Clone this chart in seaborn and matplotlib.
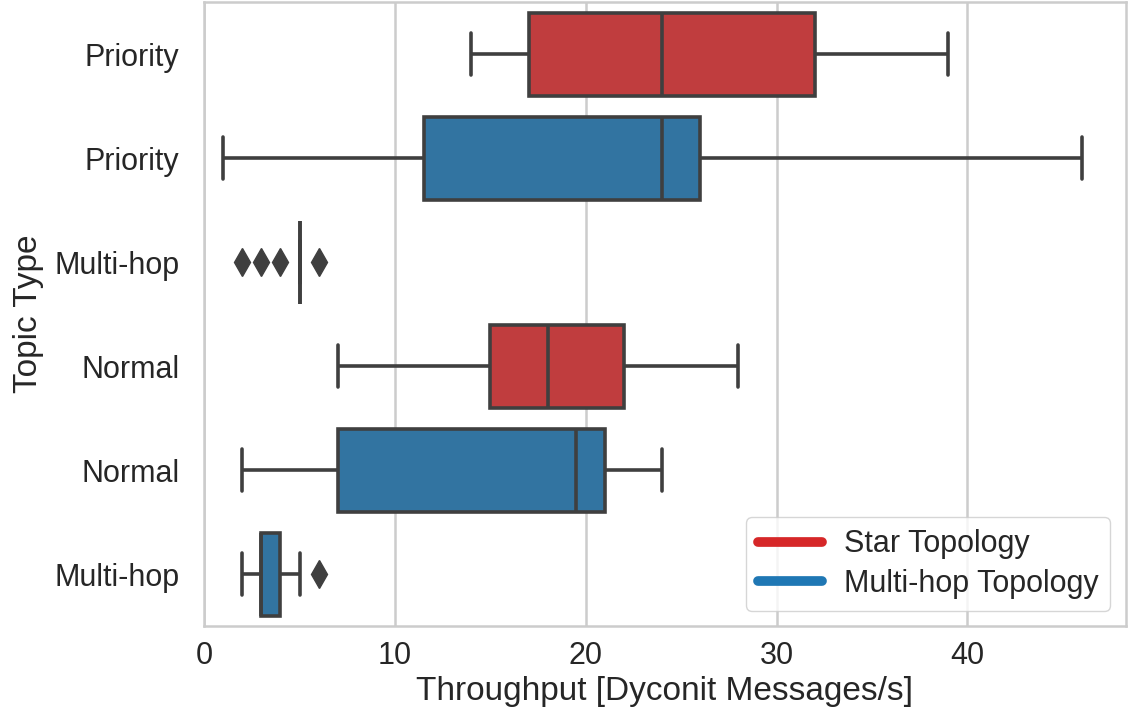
import matplotlib
matplotlib.use("Agg")
import matplotlib.pyplot as plt
from matplotlib.lines import Line2D
import pandas as pd
import seaborn as sns

# Throughput samples per topic type and topology (Dyconit messages/s)
priority_star = [14, 17, 24, 32, 39]
priority_multihop = [1, 11.5, 24, 26, 46]
multihop_star = [2, 3, 4] + [5] * 12 + [6]
normal_star = [7, 15, 18, 22, 28]
normal_multihop = [2, 7, 19.5, 21, 24]
multihop_multihop = [2, 3, 3, 3, 3, 4, 4, 5, 6]

row_keys = ["p_star", "p_multi", "m_star", "n_star", "n_multi", "m_multi"]
row_labels = ["Priority", "Priority", "Multi-hop", "Normal", "Normal", "Multi-hop"]
row_topology = ["Star Topology", "Multi-hop Topology", "Star Topology",
                "Star Topology", "Multi-hop Topology", "Multi-hop Topology"]
row_values = [priority_star, priority_multihop, multihop_star,
              normal_star, normal_multihop, multihop_multihop]

topologies = ["Star Topology", "Multi-hop Topology"]
topology_colors = ["#d62728", "#1f77b4"]

records = []
for key, topo, vals in zip(row_keys, row_topology, row_values):
    for v in vals:
        records.append({"row": key, "Topology": topo, "throughput": v})
df = pd.DataFrame(records)

sns.set_theme(style="whitegrid")
plt.rcParams["font.family"] = ["Liberation Sans", "DejaVu Sans"]
plt.rcParams.update({
    "axes.edgecolor": "#cccccc",
    "axes.linewidth": 1.8,
    "grid.color": "#cccccc",
    "grid.linewidth": 1.8,
    "text.color": "#262626",
    "axes.labelcolor": "#262626",
    "xtick.color": "#262626",
    "ytick.color": "#262626",
})

fig = plt.figure(figsize=(11.28, 7.23), dpi=100)
ax = fig.add_axes([0.181, 0.134, 0.817, 0.863])

palette = dict(zip(topologies, topology_colors))
sns.boxplot(
    data=df, x="throughput", y="row", hue="Topology", order=row_keys,
    hue_order=topologies, palette=palette, dodge=False, width=0.8,
    linewidth=2.6, linecolor="#3f3f3f", saturation=0.75, legend=False,
    flierprops=dict(marker="d", markersize=14, markerfacecolor="#3f3f3f",
                    markeredgecolor="#3f3f3f"),
    ax=ax,
)

ax.set_xlim(0, 48.3)
ax.set_ylim(5.5, -0.5)
ax.set_xticks([0, 10, 20, 30, 40])
ax.set_yticks(range(len(row_keys)))
ax.set_yticklabels(row_labels)
ax.tick_params(axis="both", labelsize=22, length=0)
ax.tick_params(axis="y", pad=18)
ax.tick_params(axis="x", pad=11)
ax.set_xlabel("Throughput [Dyconit Messages/s]", fontsize=24, labelpad=3)
ax.set_ylabel("Topic Type", fontsize=24, labelpad=7)
ax.grid(axis="y", visible=False)
ax.grid(axis="x", visible=True)

handles = [Line2D([0], [0], color=c, lw=7, solid_capstyle="round")
           for c in topology_colors]
ax.legend(handles, topologies, loc="lower right", fontsize=22,
          handlelength=2.1, handletextpad=0.7, labelspacing=0.3,
          frameon=True, borderaxespad=0.5)

fig.savefig("out.png", dpi=100)
